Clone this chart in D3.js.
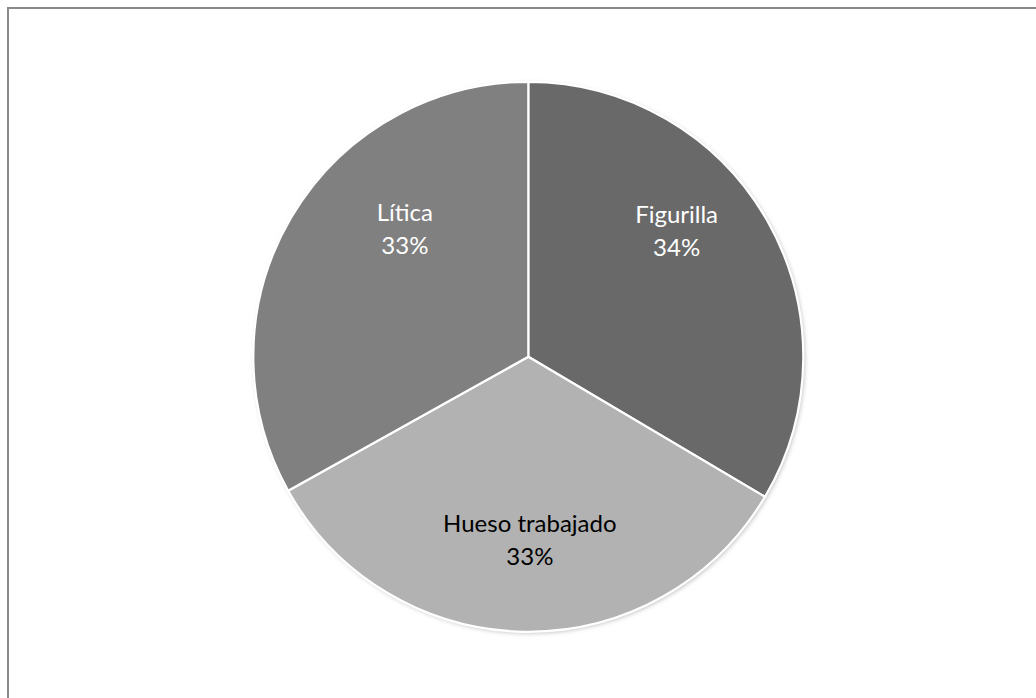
<!DOCTYPE html>
<html>
<head>
<meta charset="utf-8">
<script src="https://cdn.jsdelivr.net/npm/d3@7/dist/d3.min.js"></script>
<style>
html,body{margin:0;padding:0;background:#fff;}
svg{display:block;}
</style>
</head>
<body>
<svg id="chart" width="1036" height="698"></svg>
<script>
// Data
const categories = ["Figurilla", "Hueso trabajado", "Lítica"];
const values = [33.5, 33.4, 33.1];
const percentLabels = ["34%", "33%", "33%"];

// Styles (separate from data)
const colors = ["#696969", "#b2b2b2", "#808080"];
const textColors = ["#ffffff", "#000000", "#ffffff"];
// label placement: angle (deg, clockwise from 12 o'clock) and radius of label centre
const labelAngle = [48.5, 179.5, -43];
const labelRadius = [198, 178, 181];

const W = 1036, H = 698;
const cx = 528.3, cy = 356.8, R = 275;

const svg = d3.select("#chart");

// frame
svg.append("rect")
  .attr("x", 8).attr("y", 8)
  .attr("width", W + 20).attr("height", H + 20)
  .attr("fill", "none")
  .attr("stroke", "#8a8a8a")
  .attr("stroke-width", 2);

const defs = svg.append("defs");
const f = defs.append("filter").attr("id", "sh").attr("x", "-10%").attr("y", "-10%").attr("width", "120%").attr("height", "120%");
f.append("feDropShadow").attr("dx", 1.5).attr("dy", 1.5).attr("stdDeviation", 2).attr("flood-color", "#000").attr("flood-opacity", 0.25);

const data = categories.map((c, i) => ({ cat: c, value: values[i], pct: percentLabels[i], i }));

const pie = d3.pie().value(d => d.value).sort(null);
const arc = d3.arc().innerRadius(0).outerRadius(R);

const g = svg.append("g").attr("transform", `translate(${cx},${cy})`);

const arcs = pie(data);

g.append("g").attr("filter", "url(#sh)")
  .selectAll("path")
  .data(arcs)
  .enter().append("path")
  .attr("d", arc)
  .attr("fill", d => colors[d.data.i])
  .attr("stroke", "none");

g.append("g")
  .selectAll("path")
  .data(arcs)
  .enter().append("path")
  .attr("d", arc)
  .attr("fill", d => colors[d.data.i])
  .attr("stroke", "#ffffff")
  .attr("stroke-width", 2.2)
  .attr("stroke-linejoin", "round");

const labels = g.append("g")
  .selectAll("text")
  .data(arcs)
  .enter().append("text")
  .attr("text-anchor", "middle")
  .attr("font-family", "Lato, 'Open Sans', sans-serif")
  .attr("font-size", 24)
  .attr("fill", d => textColors[d.data.i])
  .attr("transform", d => {
    const a = labelAngle[d.data.i] * Math.PI / 180;
    const r = labelRadius[d.data.i];
    return `translate(${r * Math.sin(a)},${-r * Math.cos(a)})`;
  });

labels.append("tspan").attr("x", 0).attr("y", -3).text(d => d.data.cat);
labels.append("tspan").attr("x", 0).attr("y", 30).text(d => d.data.pct);
</script>
</body>
</html>
